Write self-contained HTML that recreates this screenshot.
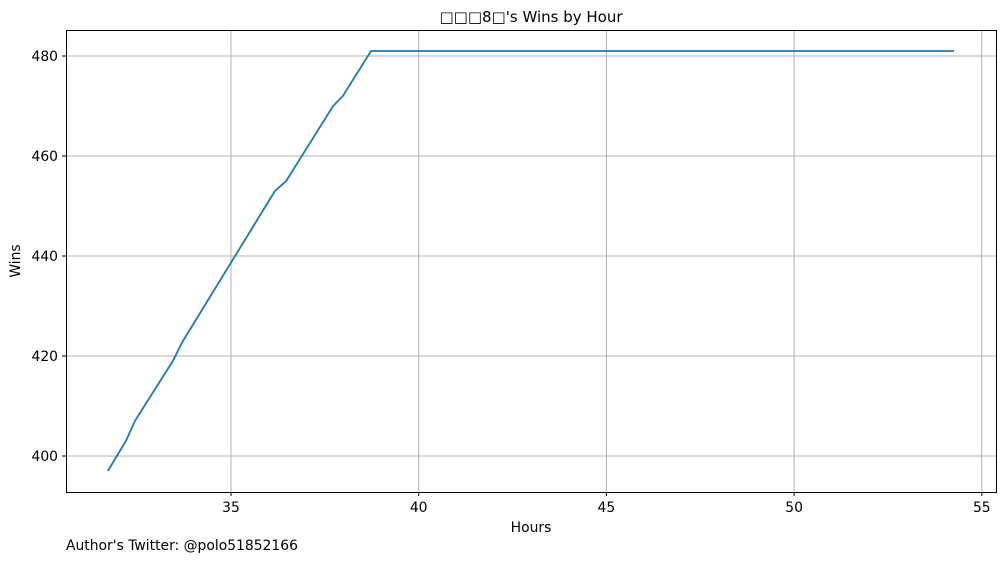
<!DOCTYPE html>
<html><head><meta charset="utf-8"><style>
body{margin:0;background:#fff;font-family:"DejaVu Sans","Liberation Sans",sans-serif;}
</style></head><body>
<svg id="chart" width="1005" height="562" xmlns="http://www.w3.org/2000/svg">
<rect width="1005" height="562" fill="#fff"/>
<text x="531" y="22" text-anchor="middle" font-size="15">□□□8□'s Wins by Hour</text>
<g id="grid"></g>
<g id="ticks"></g>
<polyline id="line" fill="none" stroke="#1f77b4" stroke-width="1.8"/>
<rect x="66.5" y="30.5" width="930" height="462" fill="none" stroke="#000" stroke-width="1"/>
<text x="531" y="532" text-anchor="middle" font-size="13.9">Hours</text>
<text x="20" y="261" text-anchor="middle" font-size="13.9" transform="rotate(-90 20 261)">Wins</text>
<text x="66" y="550" font-size="13.9">Author's Twitter: @polo51852166</text>
</svg>
<script>
const hours=[31.72,32.2,32.44,33.45,33.72,36.17,36.47,37.72,37.98,38.73,54.26];
const wins=[397,403,407,419,423,453,455,470,472,481,481];
const xTicks=[35,40,45,50,55];
const yTicks=[400,420,440,460,480];
const ns="http://www.w3.org/2000/svg";
const X=v=>231+(v-35)*37.54;
const Y=v=>456-(v-400)*5;
const grid=document.getElementById('grid'),ticks=document.getElementById('ticks');
function mk(tag,attrs,parent){const e=document.createElementNS(ns,tag);for(const k in attrs)e.setAttribute(k,attrs[k]);parent.appendChild(e);return e;}
xTicks.forEach(t=>{const x=X(t);
const g=mk('line',{x1:x,x2:x,y1:30,y2:492,stroke:'#b0b0b0','stroke-width':1},grid);

const tk=mk('line',{x1:x,x2:x,y1:492,y2:496,stroke:'#000'},ticks);

const tx=mk('text',{x:x,y:512,'text-anchor':'middle','font-size':13.9},ticks);tx.textContent=t;
});
yTicks.forEach(t=>{const y=Y(t);
const g=mk('line',{x1:66,x2:996,y1:y,y2:y,stroke:'#b0b0b0','stroke-width':1},grid);

const tk=mk('line',{x1:62,x2:66,y1:y,y2:y,stroke:'#000'},ticks);

const tx=mk('text',{x:58,y:y+5,'text-anchor':'end','font-size':13.9},ticks);tx.textContent=t;
});
document.getElementById('line').setAttribute('points',hours.map((h,i)=>X(h)+','+Y(wins[i])).join(' '));
</script>
</body></html>
